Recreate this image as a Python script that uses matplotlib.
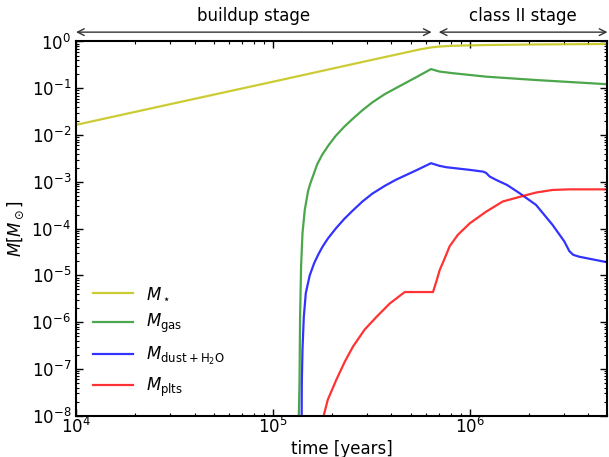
import numpy as np
import matplotlib
matplotlib.use("Agg")
import matplotlib.pyplot as plt

plt.rcParams["font.family"] = "DejaVu Sans"
plt.rcParams["mathtext.fontset"] = "dejavusans"
plt.rcParams["font.size"] = 12

# stellar mass
t_star = [1e4, 3e4, 1e5, 3e5, 5.6e5, 6.4e5, 7e5, 8.2e5, 1.2e6, 2.2e6, 5e6]
m_star = [0.0165, 0.0456, 0.138, 0.383, 0.68, 0.75, 0.78, 0.81, 0.84, 0.865,
          0.885]

# disc gas mass
t_gas = [1.352e5, 1.3535e5, 1.3646e5, 1.374e5, 1.390e5, 1.413e5, 1.451e5,
         1.509e5, 1.552e5, 1.60e5, 1.68e5, 1.786e5, 1.93e5, 2.084e5, 2.3e5,
         2.535e5, 2.85e5, 3.2e5, 3.7e5, 4.2e5, 5.31e5, 6.35e5, 7.0e5, 8.2e5,
         1.21e6, 2.17e6, 5e6]
m_gas = [1e-10, 1e-8, 5e-8, 1.3e-6, 1.55e-5, 7.9e-5, 2.5e-4,
         6.4e-4, 9.5e-4, 1.35e-3, 2.4e-3, 3.9e-3, 6.3e-3, 9.6e-3, 1.5e-2,
         2.2e-2, 3.4e-2, 5.0e-2, 7.5e-2, 0.1, 0.17, 0.257, 0.228, 0.21,
         0.177, 0.15, 0.122]

# dust + water ice
t_dust = [1.398e5, 1.3995e5, 1.402e5, 1.413e5, 1.435e5, 1.469e5, 1.538e5,
          1.618e5, 1.70e5, 1.786e5, 1.9e5, 2.084e5, 2.3e5, 2.535e5, 2.85e5,
          3.2e5, 3.7e5, 4.2e5, 5.31e5, 6.35e5, 7.0e5, 7.6e5, 1.0e6, 1.17e6,
          1.21e6, 1.26e6, 1.36e6, 1.55e6, 1.79e6, 2.17e6, 2.63e6, 3.02e6,
          3.2e6, 3.35e6, 3.6e6, 5e6]
m_dust = [1e-10, 1e-8, 5e-8, 2.6e-7, 1.3e-6, 4.2e-6, 1.0e-5,
          1.8e-5, 2.8e-5, 4.1e-5, 6.1e-5, 1.0e-4, 1.6e-4, 2.4e-4, 3.8e-4,
          5.6e-4, 8.2e-4, 1.1e-3, 1.74e-3, 2.5e-3, 2.2e-3, 2.05e-3, 1.8e-3,
          1.65e-3, 1.55e-3, 1.3e-3, 1.1e-3, 8.5e-4, 5.7e-4, 3.2e-4, 1.2e-4,
          5.3e-5, 3.3e-5, 2.75e-5, 2.5e-5, 1.9e-5]

# planetesimals
t_plts = [1.81e5, 1.9e5, 2.1e5, 2.32e5, 2.55e5, 2.92e5, 3.36e5, 3.92e5,
          4.67e5, 6.5e5, 6.76e5, 7.03e5, 7.45e5, 7.9e5, 8.7e5, 1.0e6, 1.21e6,
          1.47e6, 1.9e6, 2.17e6, 2.63e6, 3.2e6, 5e6]
m_plts = [1e-8, 2.2e-8, 5.9e-8, 1.44e-7, 3e-7, 6.9e-7, 1.3e-6, 2.5e-6,
          4.4e-6, 4.4e-6, 7.4e-6, 1.3e-5, 2.3e-5, 4.2e-5, 7.4e-5, 1.3e-4,
          2.3e-4, 3.8e-4, 5.1e-4, 5.9e-4, 6.7e-4, 6.9e-4, 6.9e-4]

stages = ["buildup stage", "class II stage"]
stage_start = [1e4, 6.95e5]
stage_end = [6.4e5, 5e6]

fig = plt.figure(figsize=(6.09, 4.57), dpi=100)
ax = fig.add_axes([0.1248, 0.0904, 0.8727, 0.8188])

lw = 1.6
ax.plot(t_star, m_star, color="y", alpha=0.8, lw=lw, label=r"$M_\star$")
ax.plot(t_gas, m_gas, color="g", alpha=0.7, lw=lw, label=r"$M_{\rm gas}$")
ax.plot(t_dust, m_dust, color="b", alpha=0.8, lw=lw,
        label=r"$M_{\rm dust+H_2O}$")
ax.plot(t_plts, m_plts, color="r", alpha=0.8, lw=lw, label=r"$M_{\rm plts}$")

ax.set_xscale("log")
ax.set_yscale("log")
ax.set_xlim(1e4, 5e6)
ax.set_ylim(1e-8, 1)
ax.set_yticks([10.0 ** k for k in range(-8, 1)])

ax.set_xlabel("time [years]", labelpad=2)
ax.set_ylabel(r"$M[M_\odot]$", labelpad=4)

for s in ax.spines.values():
    s.set_linewidth(1.5)
ax.tick_params(which="both", direction="in", top=True, right=True)
ax.tick_params(which="major", length=5, width=1)
ax.tick_params(which="minor", length=2.5, width=0.8)
ax.tick_params(axis="x", which="major", pad=1)

tr = ax.get_xaxis_transform()
for name, a, b in zip(stages, stage_start, stage_end):
    ax.annotate("", xy=(a, 1.025), xytext=(b, 1.025), xycoords=tr,
                textcoords=tr, annotation_clip=False,
                arrowprops=dict(arrowstyle="<->", color="#333333", lw=1,
                                shrinkA=0, shrinkB=0))
    ax.text(np.sqrt(a * b), 1.045, name, transform=tr, ha="center",
            va="bottom")

ax.legend(loc="lower left", frameon=False, handlelength=2.4,
          borderaxespad=0.6, labelspacing=0.55, fontsize=12)

fig.savefig("out.png", dpi=100)
